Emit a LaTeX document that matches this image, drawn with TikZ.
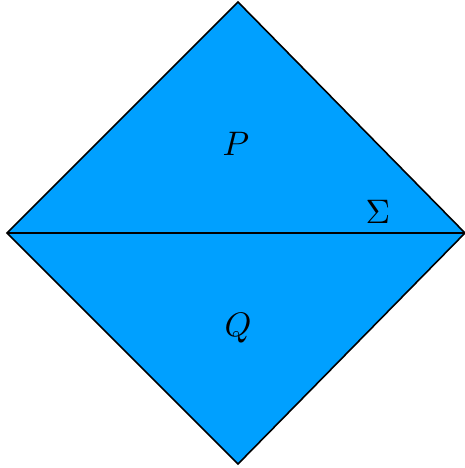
\documentclass[tikz,border=0pt]{standalone}
\definecolor{fillblue}{RGB}{0,160,255}
\begin{document}
\begin{tikzpicture}[x=1pt,y=-1pt,
  region/.style={fill=fillblue,draw=black,line width=1.6pt,line join=miter},
  lab/.style={inner sep=0pt,anchor=base}]
\useasboundingbox (0,0) rectangle (464,468);
\coordinate (T) at (238,2);
\coordinate (L) at (7,233);
\coordinate (R) at (465,233);
\coordinate (B) at (238,464);
\filldraw[region] (T) -- (R) -- (B) -- (L) -- cycle;
\draw[line width=1.6pt] (L) -- (R);
\node[lab] (p) at (236,155) {\scalebox{3.4}{$P$}};
\node[lab] (s) at (378,223) {\scalebox{3.4}{$\Sigma$}};
\node[lab] (q) at (238,336) {\scalebox{3.4}{$Q$}};
\end{tikzpicture}
\end{document}
